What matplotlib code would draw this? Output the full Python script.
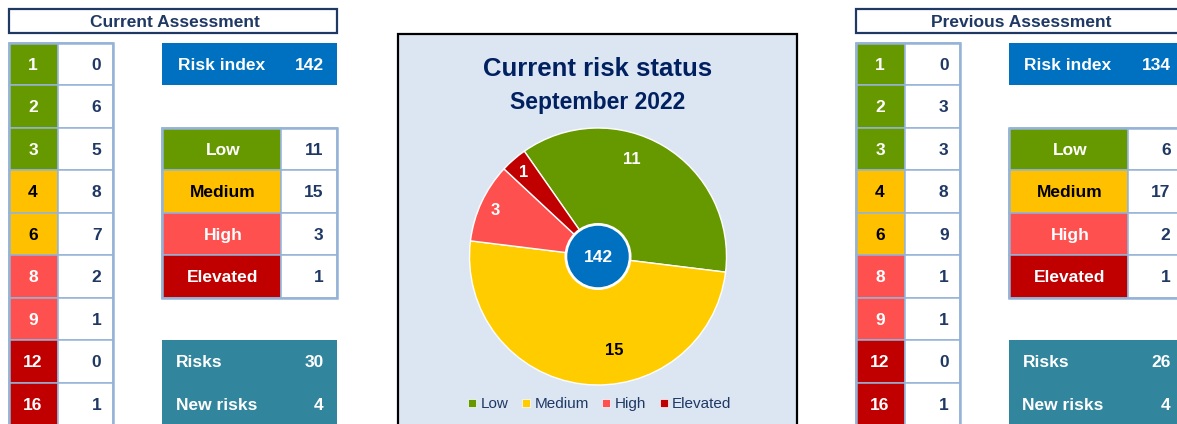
import matplotlib
matplotlib.use('Agg')
import matplotlib.pyplot as plt
from matplotlib.patches import Rectangle, Circle
from matplotlib.lines import Line2D
import numpy as np

plt.rcParams['font.family'] = ['Liberation Sans', 'DejaVu Sans']

# ---------------- data ----------------
scores = [1, 2, 3, 4, 6, 8, 9, 12, 16]
score_levels = ['Low', 'Low', 'Low', 'Medium', 'Medium', 'High', 'High', 'Elevated', 'Elevated']
current_counts = [0, 6, 5, 8, 7, 2, 1, 0, 1]
previous_counts = [0, 3, 3, 8, 9, 1, 1, 0, 1]
levels = ['Low', 'Medium', 'High', 'Elevated']
current_level_counts = [11, 15, 3, 1]
previous_level_counts = [6, 17, 2, 1]
current_index = 142
previous_index = 134
current_risks = 30
current_new_risks = 4
previous_risks = 26
previous_new_risks = 4
chart_title = 'Current risk status'
chart_subtitle = 'September 2022'

# ---------------- style ----------------
cell_colors = {'Low': '#669900', 'Medium': '#FFC000', 'High': '#FF5050', 'Elevated': '#C00000'}
cell_text = {'Low': 'white', 'Medium': 'black', 'High': 'white', 'Elevated': 'white'}
pie_colors = ['#669900', '#FFCC00', '#FF5050', '#C00000']
pie_text = ['white', 'black', 'white', 'white']
label_shift_deg = [12, 17, 0, 0]
label_radius = [0.81, 0.73, 0.88, 0.88]

NAVY = '#1F3864'
TITLE = '#002060'
BORDER = '#95B3D7'
BLUE = '#0070C0'
TEAL = '#31859C'
BG = '#DCE6F2'
FS = 12.5

W, H = 1177, 424
fig = plt.figure(figsize=(W / 100, H / 100), dpi=100)
ax = fig.add_axes([0, 0, 1, 1])
ax.set_xlim(0, W)
ax.set_ylim(H, 0)
ax.axis('off')

ROW0 = 42.5
RH = 42.5


def txt(x, y, s, **kw):
    kw.setdefault('fontsize', FS)
    kw.setdefault('fontweight', 'bold')
    kw.setdefault('va', 'center_baseline')
    ax.text(x, y, s, **kw)


def panel(x0, title, counts, index, level_counts, risks, new_risks):
    # header
    ax.add_patch(Rectangle((x0, 8.5), 328, 24.5, fc='white', ec=NAVY, lw=1.6, zorder=2))
    txt(x0 + 166, 21, title, ha='center', color=NAVY, zorder=3)
    # score table
    c0, c1, c2 = x0, x0 + 49, x0 + 104
    for i, (s, lv, n) in enumerate(zip(scores, score_levels, counts)):
        y = ROW0 + i * RH
        ax.add_patch(Rectangle((c0, y), c1 - c0, RH, fc=cell_colors[lv], ec=BORDER, lw=1.1, zorder=2))
        ax.add_patch(Rectangle((c1, y), c2 - c1, RH, fc='white', ec=BORDER, lw=1.1, zorder=2))
        txt((c0 + c1) / 2, y + RH / 2, str(s), ha='center', color=cell_text[lv], zorder=3)
        txt(c2 - 11, y + RH / 2, str(n), ha='right', color=NAVY, zorder=3)
    ax.add_patch(Rectangle((c0, ROW0), c2 - c0, RH * len(scores), fill=False, ec=BORDER, lw=1.8, zorder=2.5))
    # risk index box
    b0, b1, b2 = x0 + 153, x0 + 272, x0 + 328
    ax.add_patch(Rectangle((b0, ROW0), b2 - b0, RH, fc=BLUE, ec='none', zorder=2))
    txt(b0 + 16, ROW0 + RH / 2, 'Risk index', ha='left', color='white', zorder=3)
    txt(b2 - 13, ROW0 + RH / 2, str(index), ha='right', color='white', zorder=3)
    # level table
    for j, (lv, n) in enumerate(zip(levels, level_counts)):
        y = ROW0 + (2 + j) * RH
        ax.add_patch(Rectangle((b0, y), b1 - b0, RH, fc=cell_colors[lv], ec=BORDER, lw=1.1, zorder=2))
        ax.add_patch(Rectangle((b1, y), b2 - b1, RH, fc='white', ec=BORDER, lw=1.1, zorder=2))
        txt((b0 + b1) / 2 + 2, y + RH / 2, lv, ha='center', color=cell_text[lv], zorder=3)
        txt(b2 - 13, y + RH / 2, str(n), ha='right', color=NAVY, zorder=3)
    ax.add_patch(Rectangle((b0, ROW0 + 2 * RH), b2 - b0, 4 * RH, fill=False, ec=BORDER, lw=1.8, zorder=2.5))
    # risks box
    y = ROW0 + 7 * RH
    ax.add_patch(Rectangle((b0, y), b2 - b0, 2 * RH, fc=TEAL, ec='none', zorder=2))
    txt(b0 + 14, y + RH / 2, 'Risks', ha='left', color='white', zorder=3)
    txt(b2 - 13, y + RH / 2, str(risks), ha='right', color='white', zorder=3)
    txt(b0 + 14, y + 1.5 * RH, 'New risks', ha='left', color='white', zorder=3)
    txt(b2 - 13, y + 1.5 * RH, str(new_risks), ha='right', color='white', zorder=3)


panel(8.5, 'Current Assessment', current_counts, current_index,
      current_level_counts, current_risks, current_new_risks)
panel(855.5, 'Previous Assessment', previous_counts, previous_index,
      previous_level_counts, previous_risks, previous_new_risks)

# ---------------- central chart ----------------
ax.add_patch(Rectangle((397.5, 33.5), 399, 400, fc=BG, ec='black', lw=1.6, zorder=1))
txt(598, 66, chart_title, ha='center', color=TITLE, fontsize=18.5)
txt(598, 100.5, chart_subtitle, ha='center', color=TITLE, fontsize=16.5)

cx, cy, R = 598, 256.5, 128.5
pax = fig.add_axes([(cx - R) / W, (H - cy - R) / H, 2 * R / W, 2 * R / H])
wedges, _ = pax.pie(current_level_counts, colors=pie_colors, startangle=125, counterclock=False,
                    wedgeprops=dict(edgecolor='white', linewidth=1.0), radius=1.0)
pax.set_xlim(-1, 1)
pax.set_ylim(-1, 1)
pax.set_aspect('auto')
pax.axis('off')
for w, n, tc, sh, rr in zip(wedges, current_level_counts, pie_text, label_shift_deg, label_radius):
    ang = np.deg2rad((w.theta1 + w.theta2) / 2 + sh)
    pax.text(rr * np.cos(ang), rr * np.sin(ang), str(n), ha='center', va='center_baseline',
             fontsize=12, fontweight='bold', color=tc)
pax.add_patch(Circle((0, 0), 0.25, fc=BLUE, ec='white', lw=2.0, zorder=5))
pax.text(0, 0, str(current_index), ha='center', va='center_baseline', fontsize=FS,
         fontweight='bold', color='white', zorder=6)

handles = [Line2D([], [], marker='s', ls='none', markersize=6, markerfacecolor=c,
                  markeredgecolor='white', markeredgewidth=0.5) for c in pie_colors]
leg = ax.legend(handles, levels, loc='center', bbox_to_anchor=(600 / W, 1 - 404 / H),
                bbox_transform=fig.transFigure, ncol=4, frameon=False, fontsize=11,
                handlelength=0.5, handletextpad=0.3, columnspacing=0.9, borderpad=0)
for t in leg.get_texts():
    t.set_color(NAVY)

fig.savefig('out.png', dpi=100)
